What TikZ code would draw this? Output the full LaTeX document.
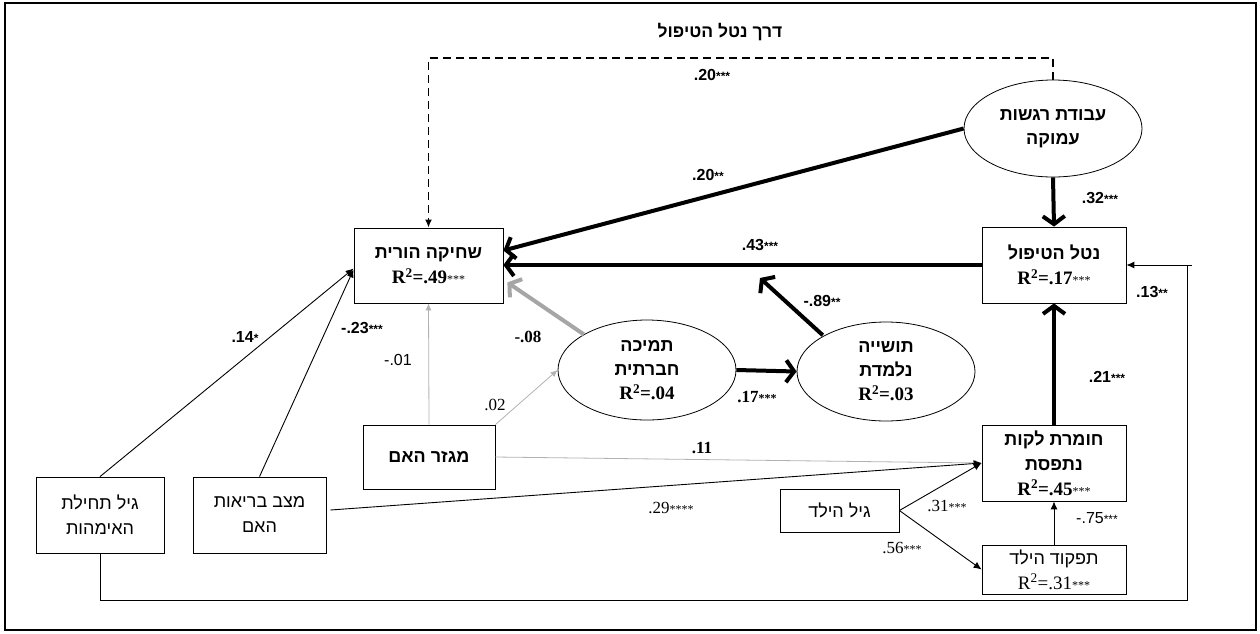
\documentclass[tikz,border=0pt]{standalone}
\usepackage{fontspec}
\setmainfont{Liberation Serif}
\newfontfamily\hebfont[Script=Hebrew]{Liberation Sans}
\newfontfamily\sansf{Liberation Sans}
\TeXXeTstate=1
\usetikzlibrary{arrows.meta,shapes.geometric,calc}
\newcommand\heb[1]{{\hebfont\beginR #1\endR}}
\newcommand\hebb[1]{{\hebfont\bfseries\beginR #1\endR}}
\newcommand\stars[1]{{\fontsize{12}{12}\selectfont #1}}
\newcommand\rsq[2]{{\fontsize{19}{22}\selectfont\bfseries R\textsuperscript{2}=.#1}\stars{#2}}
\newcommand\rsqr[2]{{\fontsize{19}{22}\selectfont R\textsuperscript{2}=.#1}\stars{#2}}
\tikzset{
  box/.style={draw, line width=0.8pt, inner sep=0pt, align=center, font=\fontsize{18}{25}\selectfont},
  ell/.style={draw, ellipse, line width=0.8pt, inner sep=0pt, align=center, font=\fontsize{18}{24}\selectfont},
  bigarr/.style={line width=4pt, -{Straight Barb[length=8pt,width=22pt]}},
  grayarr/.style={bigarr, draw=black!35},
  thinarr/.style={line width=0.9pt, -{Latex[length=8pt,width=7pt]}},
  thinline/.style={line width=0.9pt},
  lgarr/.style={line width=0.8pt, draw=black!30, -{Latex[length=7pt,width=6pt]}},
  dashedc/.style={line width=1.8pt, dash pattern=on 8pt off 5pt, -{Latex[length=8pt,width=7pt]}},
  labsb/.style={inner sep=1pt, font=\sansf\bfseries\fontsize{16}{16}\selectfont},
  labs/.style={inner sep=1pt, font=\sansf\fontsize{16}{16}\selectfont},
  labr/.style={inner sep=1pt, font=\fontsize{17}{17}\selectfont},
  labrb/.style={inner sep=1pt, font=\bfseries\fontsize{17}{17}\selectfont},
}
\begin{document}
\begin{tikzpicture}[x=1pt,y=-1pt]
\useasboundingbox (0,0) rectangle (1260,633);
\draw[line width=2.5pt] (5,3) rectangle (1256,630);

% nodes
\node[box, minimum width=149pt, minimum height=75pt] (shh) at (428.5,265.5) {\hebb{שחיקה הורית}\\\rsq{49}{***}};
\node[box, minimum width=144pt, minimum height=76pt] (net) at (1054,265) {\hebb{נטל הטיפול}\\\rsq{17}{***}};
\node[box, minimum width=144pt, minimum height=76pt] (chom) at (1054,463) {\hebb{חומרת לקות}\\\hebb{נתפסת}\\\rsq{45}{***}};
\node[box, minimum width=144pt, minimum height=49pt] (tafk) at (1054,569.5) {\heb{תפקוד הילד}\\\rsqr{31}{***}};
\node[box, minimum width=119pt, minimum height=43pt] (gilh) at (839.5,510.5) {\heb{גיל הילד}};
\node[box, minimum width=132pt, minimum height=64pt] (mig) at (429,457) {\hebb{מגזר האם}};
\node[box, minimum width=128pt, minimum height=76pt] (gilt) at (100,515) {\heb{גיל תחילת}\\\heb{האימהות}};
\node[box, minimum width=133pt, minimum height=76pt] (matz) at (259.5,515) {\heb{מצב בריאות}\\\heb{האם}};
\node[ell, minimum width=178pt, minimum height=97pt] (abo) at (1053,128.5) {\hebb{עבודת רגשות}\\\hebb{עמוקה}};
\node[ell, minimum width=178pt, minimum height=100pt] (tam) at (647,370) {\hebb{תמיכה}\\\hebb{חברתית}\\\rsq{04}{}};
\node[ell, minimum width=178pt, minimum height=99pt] (tush) at (886,371.5) {\hebb{תושייה}\\\hebb{נלמדת}\\\rsq{03}{}};

% title
\node[inner sep=1pt, font=\fontsize{17.5}{17.5}\selectfont] (title) at (720,32) {\hebb{דרך נטל הטיפול}};

% coordinates
\coordinate (dtop) at (1053,58);
\coordinate (cB) at (1187,600);
\coordinate (cT) at (1187,265);
\coordinate (cS) at (1192,265);

% connectors
\draw[dashedc] (abo.north) -- (dtop) -| (shh.north);
\draw[bigarr] (abo.west) -- ($(shh.east)+(0,-15)$);
\draw[bigarr] (abo.south) -- (net.north);
\draw[bigarr] (net.west) -- (net.west -| shh.east);
\draw[bigarr] (tush.north west) ++(0,-1) -- (760,278);
\draw[bigarr] (tam.east) -- (tush.west);
\draw[grayarr] (tam.north west) -- ($(shh.south east)+(4,-21)$);
\draw[lgarr] (mig.north) -- (shh.south);
\draw[lgarr] (mig.north east) -- (tam.west);
\draw[lgarr] (mig.east) -- (chom.west);
\draw[thinarr] (matz.east) ++(4,-5) -- (chom.west);
\draw[thinarr] (gilh.east) -- (chom.west);
\draw[thinarr] (gilh.east) -- (tafk.west);
\draw[thinarr] (tafk.north) -- (chom.south);
\draw[bigarr] (chom.north) -- (net.north |- net.south);
\draw[thinarr] (gilt.north) -- ($(shh.west)+(0,3)$);
\draw[thinarr] (matz.north) -- ($(shh.west)+(0,4)$);
\draw[thinline] (gilt.south) |- (cB) -- (cT);
\draw[thinarr] (cS) -- (net.east);

% labels
\node[labsb] (l20d) at (712,75) {.20\stars{***}};
\node[labsb] (l20) at (708,175) {.20\stars{**}};
\node[labsb] (l32) at (1100,198) {.32\stars{***}};
\node[labsb] (l43) at (760,245) {.43\stars{***}};
\node[labsb] (l13) at (1152,292) {.13\stars{**}};
\node[labsb] (l89) at (822,301) {-.89\stars{**}};
\node[labrb] (l08) at (528,337) {-.08};
\node[labsb] (l14) at (245,337) {.14\stars{*}};
\node[labsb] (l23) at (362,328) {-.23\stars{***}};
\node[labs] (l01) at (398,360) {-.01};
\node[labr] (l02) at (495,405) {.02};
\node[labrb] (l17) at (757,397) {.17\stars{***}};
\node[labsb] (l21) at (1107,377) {.21\stars{***}};
\node[labrb] (l11) at (702,448) {.11};
\node[labr] (l29) at (671,508) {.29\stars{****}};
\node[labr] (l31) at (947,506) {.31\stars{***}};
\node[labr] (l56) at (902,548) {.56\stars{***}};
\node[labs] (l75) at (1097,518) {-.75\stars{***}};
\end{tikzpicture}
\end{document}
